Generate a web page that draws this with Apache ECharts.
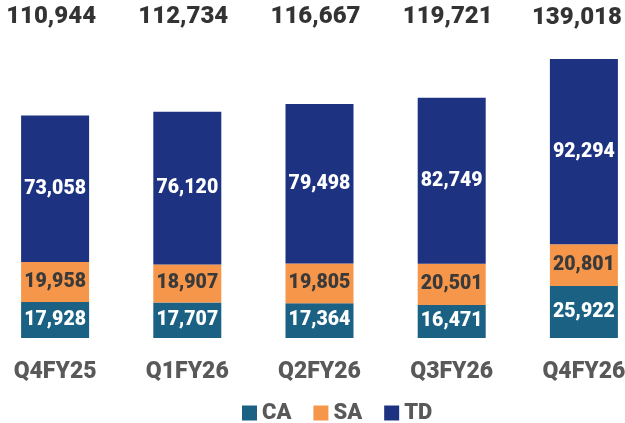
<!DOCTYPE html>
<html>
<head>
<meta charset="utf-8">
<script src="https://cdn.jsdelivr.net/npm/echarts@6/dist/echarts.min.js"></script>
<style>
  html, body { margin: 0; padding: 0; background: #fff; }
  #chart { width: 625px; height: 423px; }
</style>
</head>
<body>
<div id="chart"></div>
<script>
  // quarters and deposit split
  var quarters = ['Q4FY25', 'Q1FY26', 'Q2FY26', 'Q3FY26', 'Q4FY26'];
  var ca = [17928, 17707, 17364, 16471, 25922];
  var sa = [19958, 18907, 19805, 20501, 20801];
  var td = [73058, 76120, 79498, 82749, 92294];
  var totals = [110944, 112734, 116667, 119721, 139018];

  var font = "Roboto, sans-serif";
  var heavy = 900;
  var yMax = 160000;

  function fmt(v) {
    return v.toLocaleString('en-US');
  }

  var chart = echarts.init(document.getElementById('chart'));

  function segLabel(color) {
    return {
      show: true,
      formatter: function (p) { return fmt(p.value); },
      fontFamily: font,
      fontWeight: heavy,
      fontSize: 19.5,
      color: color
    };
  }

  chart.setOption({
    animation: false,
    color: ['#1a6183', '#f5964a', '#1d3280'],
    grid: {
      left: -11,
      right: -25,
      top: 17,
      bottom: 85,
      outerBoundsMode: 'none',
      containLabel: false
    },
    legend: {
      top: 397,
      left: 237,
      itemWidth: 15,
      itemHeight: 15,
      itemGap: 22,
      icon: 'rect',
      data: ['CA', 'SA', 'TD'],
      textStyle: {
        fontFamily: font,
        fontWeight: heavy,
        fontSize: 22,
        color: '#595959'
      }
    },
    xAxis: {
      type: 'category',
      data: quarters,
      axisLine: { show: false },
      axisTick: { show: false },
      axisLabel: {
        interval: 0,
        margin: 23,
        fontFamily: font,
        fontWeight: heavy,
        fontSize: 23,
        color: '#595959'
      }
    },
    yAxis: {
      type: 'value',
      min: 0,
      max: yMax,
      show: false,
      splitLine: { show: false }
    },
    series: [
      {
        name: 'CA',
        type: 'bar',
        stack: 'dep',
        barWidth: 68,
        data: ca,
        label: segLabel('#fff')
      },
      {
        name: 'SA',
        type: 'bar',
        stack: 'dep',
        barWidth: 68,
        data: sa,
        label: segLabel('#3a3a3a')
      },
      {
        name: 'TD',
        type: 'bar',
        stack: 'dep',
        barWidth: 68,
        data: td,
        label: segLabel('#fff')
      },
      {
        // totals row along the top
        name: 'Total',
        type: 'scatter',
        symbolSize: 0,
        silent: true,
        data: totals.map(function (t, i) {
          var last = i === totals.length - 1;
          return {
            value: [quarters[i], yMax],
            label: { offset: last ? [-7, 1] : [-4, 0] }
          };
        }),
        label: {
          show: true,
          position: 'inside',
          formatter: function (p) { return fmt(totals[p.dataIndex]); },
          fontFamily: font,
          fontWeight: heavy,
          fontSize: 24,
          color: '#000'
        }
      }
    ]
  });
</script>
</body>
</html>
